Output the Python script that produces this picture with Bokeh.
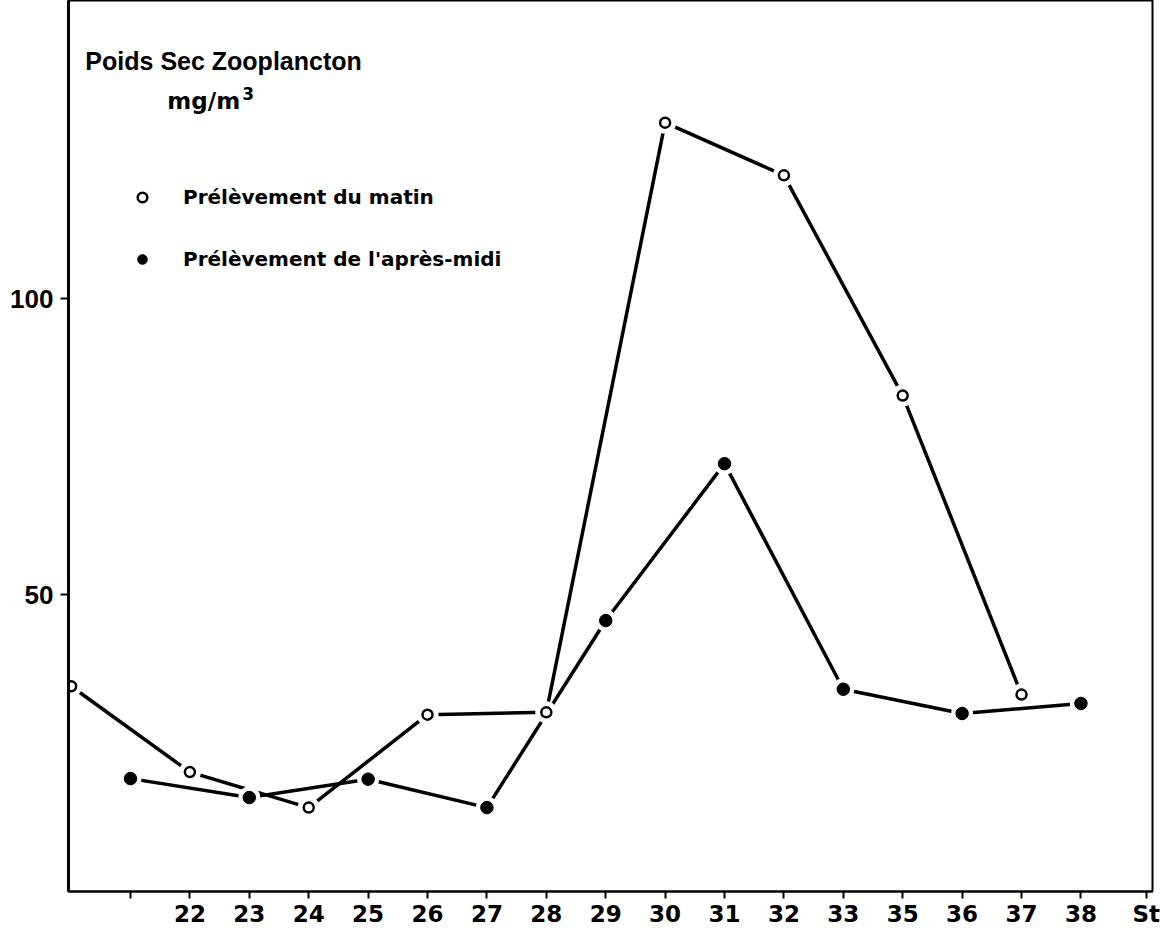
from bokeh.plotting import figure
from bokeh.models import Range1d, FixedTicker, Label, Legend, LegendItem, ColumnDataSource
from bokeh.embed import file_html
from bokeh.resources import INLINE

# ---- data ----
stations = ["20", "21", "22", "23", "24", "25", "26", "27", "28", "29",
            "30", "31", "32", "33", "35", "36", "37", "38"]
tick_labels = ["", "22", "23", "24", "25", "26", "27", "28", "29",
               "30", "31", "32", "33", "35", "36", "37", "38"]   # for stations[1:]
axis_unit = "St"

morning_stations = ["20", "22", "24", "26", "28", "30", "32", "35", "37"]
morning_values = [34.5, 20.0, 14.0, 29.7, 30.1, 129.7, 120.8, 83.6, 33.1]

afternoon_stations = ["21", "23", "25", "27", "29", "31", "33", "36", "38"]
afternoon_values = [18.9, 15.7, 18.8, 14.0, 45.6, 72.1, 34.0, 29.9, 31.6]

y_ticks = [50, 100]

title_text = "Poids Sec Zooplancton"
unit_text = "mg/m"
unit_sup = "3"
morning_label = "Prélèvement du matin"
afternoon_label = "Prélèvement de l'après-midi"

FONT = "DejaVu Sans"
FONT2 = "Liberation Sans"

m_src = ColumnDataSource(dict(x=[stations.index(s) for s in morning_stations], y=morning_values))
a_src = ColumnDataSource(dict(x=[stations.index(s) for s in afternoon_stations], y=afternoon_values))

p = figure(frame_width=1084, frame_height=891,
           x_range=Range1d(-0.044, 18.205), y_range=Range1d(-0.17, 150.34),
           output_backend="svg", toolbar_location=None,
           min_border_left=68, min_border_right=8, min_border_top=0, min_border_bottom=37,
           background_fill_color="white", border_fill_color="white")

p.xgrid.visible = False
p.ygrid.visible = False
p.outline_line_color = "black"
p.outline_line_width = 2

# lines
p.line("x", "y", source=m_src, line_color="black", line_width=3.5)
p.line("x", "y", source=a_src, line_color="black", line_width=3.5)
# white gaps around the points
p.scatter("x", "y", source=m_src, size=22, fill_color="white", line_color=None)
p.scatter("x", "y", source=a_src, size=22, fill_color="white", line_color=None)
# markers
r_m = p.scatter("x", "y", source=m_src, size=10, fill_color="white", line_color="black", line_width=2.5)
r_a = p.scatter("x", "y", source=a_src, size=12.5, fill_color="black", line_color="black")

# x axis
xt = list(range(1, len(stations))) + [18.1]
overrides = {i + 1: lab for i, lab in enumerate(tick_labels)}
overrides[18.1] = axis_unit
xa = p.xaxis[0]
xa.ticker = FixedTicker(ticks=xt)
xa.major_label_overrides = overrides
xa.major_tick_out = 7
xa.major_tick_in = 0
xa.minor_tick_out = 0
xa.minor_tick_in = 0
xa.major_tick_line_width = 2
xa.axis_line_width = 2
xa.major_label_standoff = 2
xa.major_label_text_font = FONT
xa.major_label_text_font_size = "23px"
xa.major_label_text_font_style = "bold"
xa.major_label_text_color = "black"

# y axis
ya = p.yaxis[0]
ya.ticker = FixedTicker(ticks=y_ticks)
ya.major_tick_out = 8
ya.major_tick_in = 0
ya.minor_tick_out = 0
ya.minor_tick_in = 0
ya.major_tick_line_width = 2
ya.axis_line_width = 3
ya.major_label_standoff = 7
ya.major_label_text_font = FONT2
ya.major_label_text_font_size = "26px"
ya.major_label_text_font_style = "bold"
ya.major_label_text_color = "black"

# title texts
p.add_layout(Label(x=0.24, y=140.2, text=title_text, text_font=FONT2, text_font_style="bold",
                   text_font_size="25px", text_color="black", text_baseline="middle"))
p.add_layout(Label(x=1.62, y=133.3, text=unit_text, text_font=FONT, text_font_style="bold",
                   text_font_size="23px", text_color="black", text_baseline="middle"))
p.add_layout(Label(x=2.88, y=134.6, text=unit_sup, text_font=FONT, text_font_style="bold",
                   text_font_size="17px", text_color="black", text_baseline="middle"))

legend = Legend(items=[LegendItem(label=morning_label, renderers=[r_m]),
                       LegendItem(label=afternoon_label, renderers=[r_a])],
                location=(62, 620), orientation="vertical",
                glyph_width=24, glyph_height=24, label_height=24, label_standoff=29,
                spacing=38, padding=0, margin=0,
                border_line_color=None, background_fill_alpha=0,
                label_text_font=FONT, label_text_font_style="bold",
                label_text_font_size="20px", label_text_color="black")
p.add_layout(legend)

open("out.html", "w").write(file_html(p, INLINE))
